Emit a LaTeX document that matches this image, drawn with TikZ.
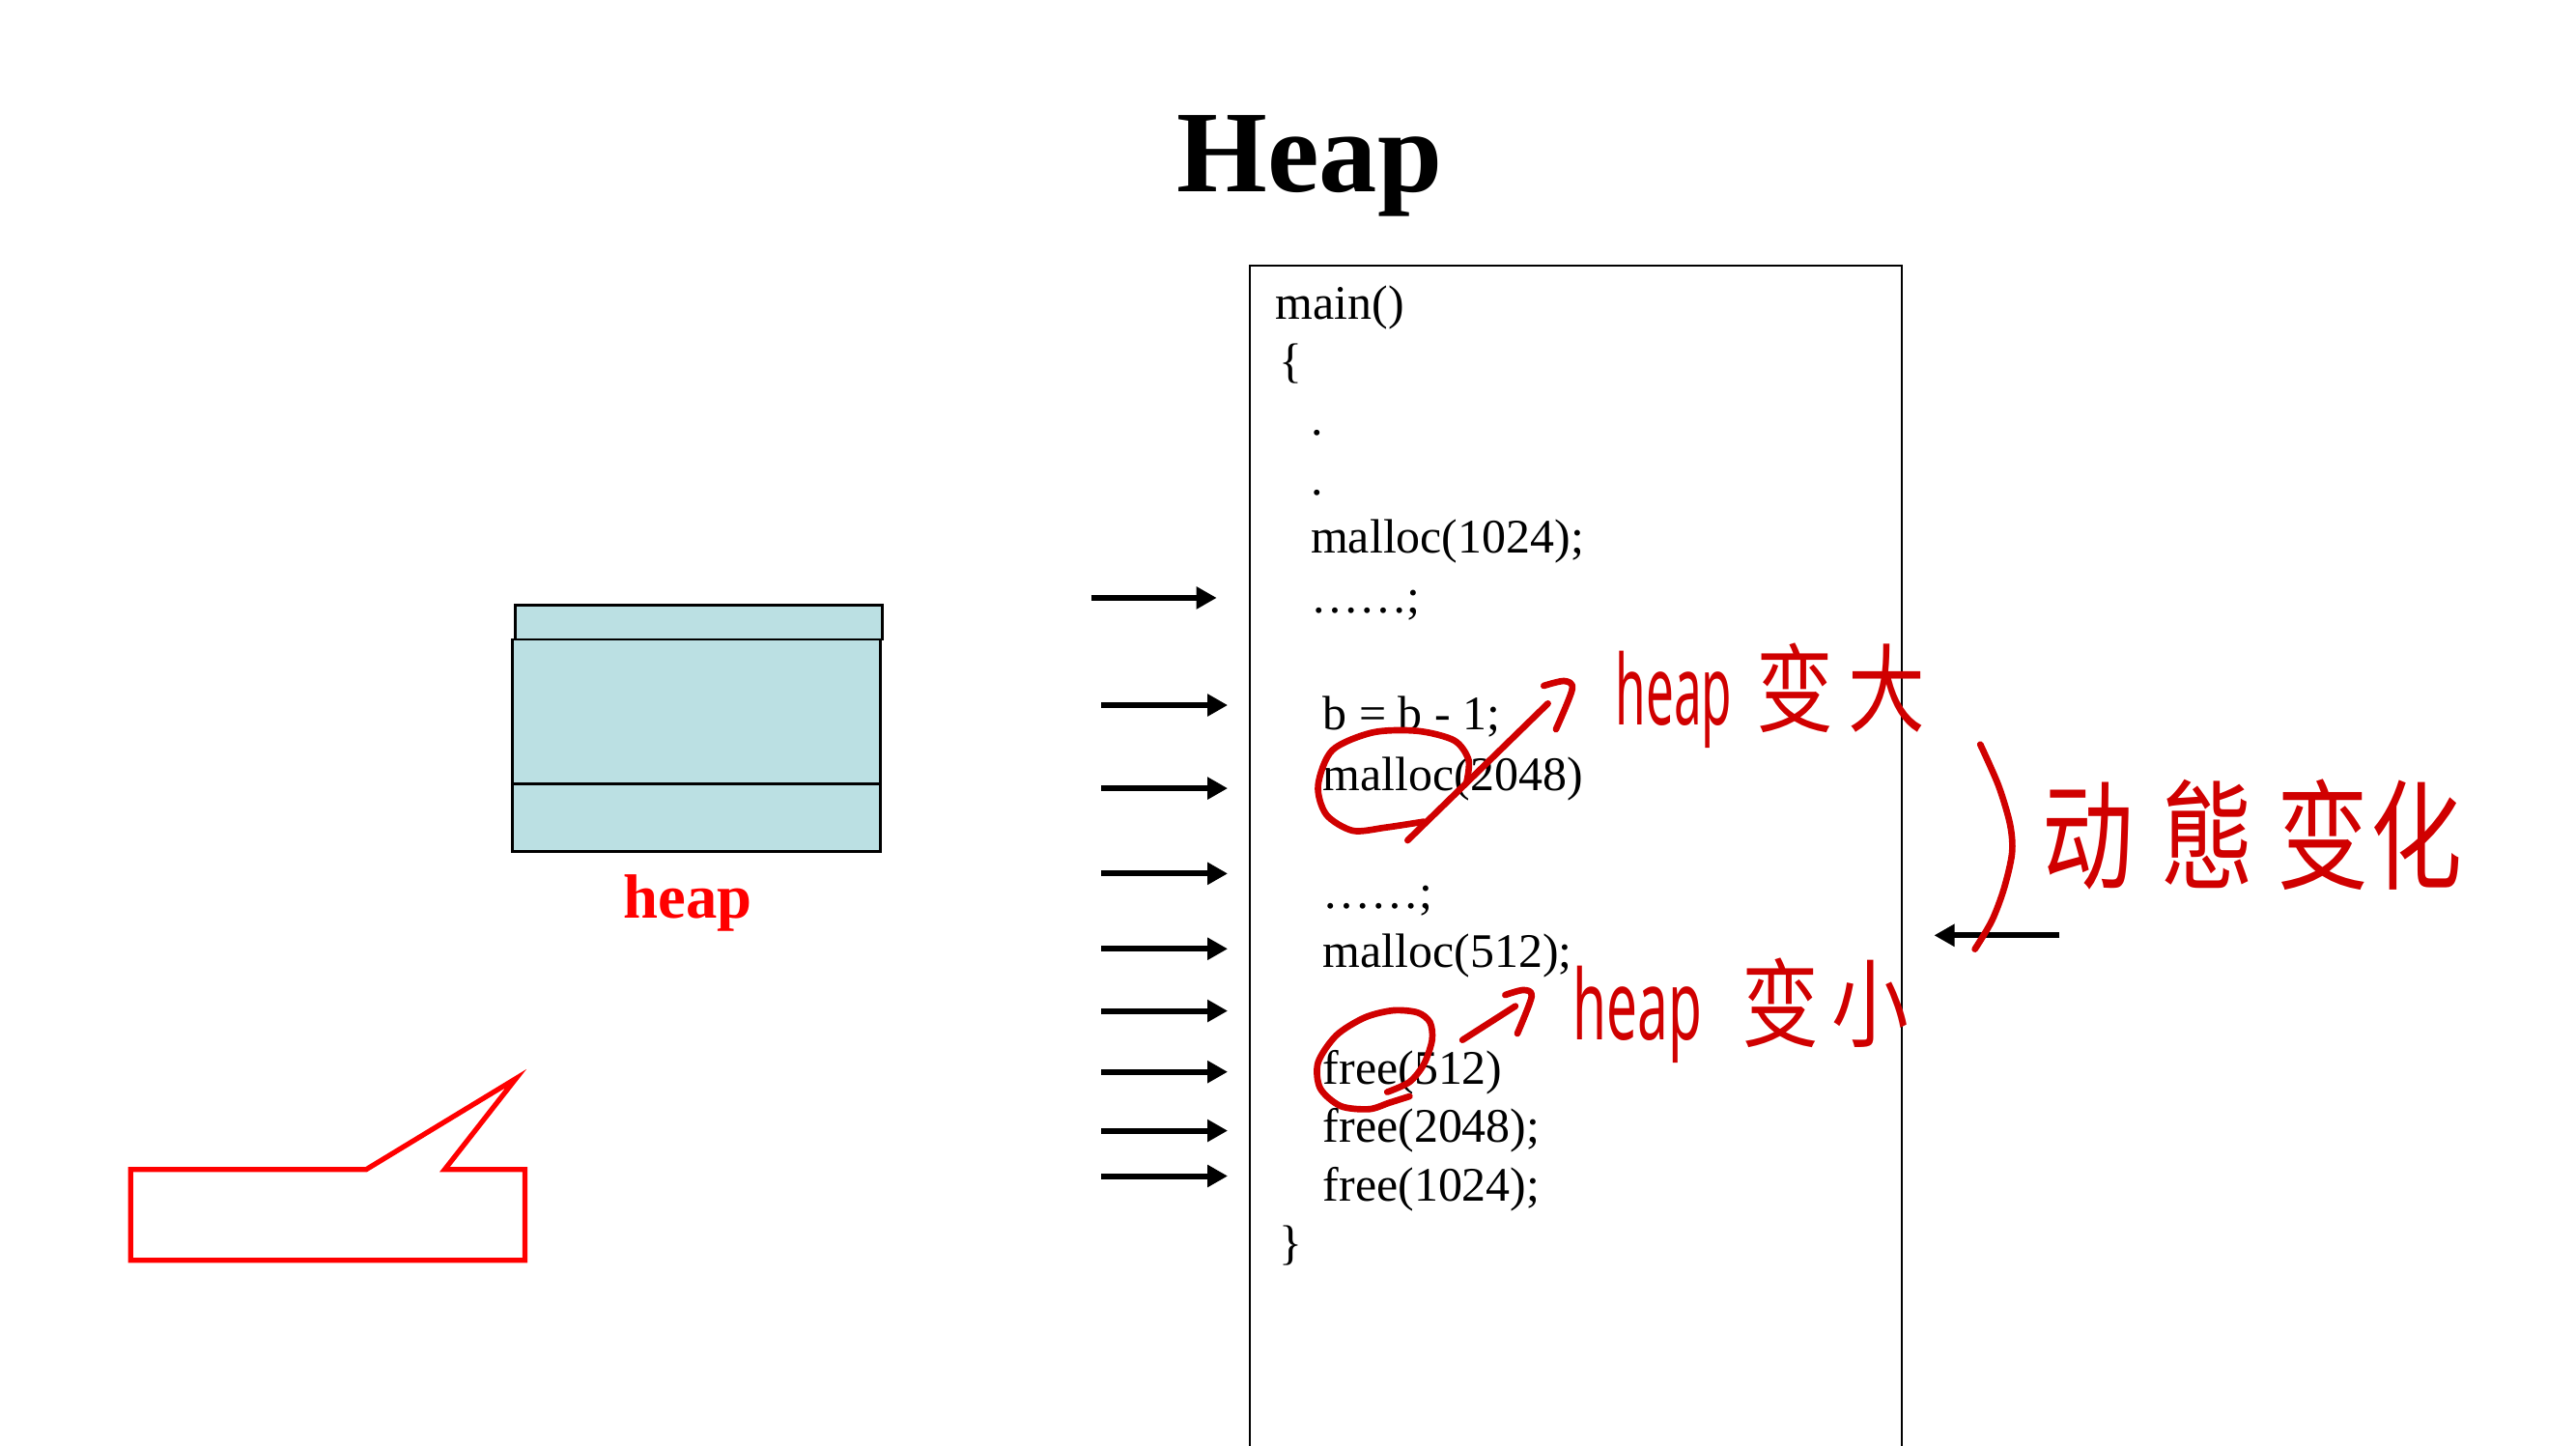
\documentclass[tikz,border=0pt]{standalone}
\usepackage{fontspec}
\usepackage{graphicx}
\setmainfont{Liberation Serif}
\newfontfamily\cjk{Noto Sans CJK SC}
\newfontfamily\hwfont{Noto Sans}
\usetikzlibrary{arrows.meta}
\definecolor{heapfill}{RGB}{187,224,227}
\definecolor{ink}{RGB}{208,0,0}
% hand-written style pieces
\newcommand\hwheap[1]{\scalebox{#1}[1.1]{\hwfont\fontsize{26pt}{26pt}\selectfont heap}}
\newcommand\hwcjk[3]{\scalebox{1}[#2]{\cjk\fontsize{#1}{#1}\selectfont #3}}
\tikzset{
  codeline/.style={anchor=base west, inner sep=0pt, font=\fontsize{14.2pt}{17pt}\selectfont},
  pointer/.style={line width=1.7pt, -{Triangle[length=6pt,width=6.3pt]}},
  pen/.style={draw=ink, line width=1.9pt, line cap=round, line join=round},
  hand/.style={anchor=base west, inner sep=0pt, text=ink},
}
\begin{document}
\begin{tikzpicture}[x=0.017009cm,y=-0.017009cm]
\useasboundingbox (0,0) rectangle (1568,879.54);

% title
\node[anchor=base, inner sep=0pt, font=\bfseries\fontsize{34.3pt}{40pt}\selectfont] (title) at (797.2,116.6) {Heap};

% program listing frame
\node[draw, line width=0.6pt, anchor=north west, minimum width=6.7526cm, minimum height=12.6cm, inner sep=0pt] (prog) at (760,161) {};

% heap block
\node[draw, line width=0.8pt, fill=heapfill, anchor=north west, minimum width=3.805cm, minimum height=0.3538cm, inner sep=0pt] (heapcap) at (312.8,367.6) {};
\node[draw, line width=0.8pt, fill=heapfill, anchor=north west, minimum width=3.805cm, minimum height=2.194cm, inner sep=0pt] (heapbox) at (311.2,388.4) {};
\coordinate (split) at (0,476.9);
\draw[line width=0.8pt] (heapbox.west |- split) -- (heapbox.east |- split);
\node[anchor=base, inner sep=0pt, text=red, font=\bfseries\fontsize{18.4pt}{22pt}\selectfont] (heaplbl) at (418.8,559) {heap};

% empty callout
\draw[red, line width=1.5pt] (79.5,711.8) -- (222.9,711.8) -- (314,656.5) -- (270.7,711.8) -- (319.5,711.8) -- (319.5,767.1) -- (79.5,767.1) -- cycle;

% code
\node[codeline] (l1) at (776,194.2) {main()};
\node[codeline] (l2) at (778.5,229.6) {\{};
\node[codeline] (l3) at (797.6,265) {.};
\node[codeline] (l4) at (797.6,301.5) {.};
\node[codeline] (l5) at (797.5,336.6) {malloc(1024);};
\node[codeline] (l6) at (797.5,373.2) {……;};
\node[codeline] (l7) at (805,443.9) {b = b - 1;};
\node[codeline] (l8) at (805,481) {malloc(2048)};
\node[codeline] (l9) at (805,553.1) {……;};
\node[codeline] (l10) at (805,588.8) {malloc(512);};
\node[codeline] (l11) at (805,660) {free(512)};
\node[codeline] (l12) at (805,695.1) {free(2048);};
\node[codeline] (l13) at (805,731.1) {free(1024);};
\node[codeline] (l14) at (778,766.5) {\}};

% execution pointers
\coordinate (p1) at (664.3,363.9); \coordinate (q1) at (740.6,363.9);
\foreach \i/\y in {2/429.2,3/479.8,4/531.7,5/577.5,6/615.3,7/652.4,8/688.2,9/715.8}{
  \coordinate (p\i) at (670.3,\y); \coordinate (q\i) at (747.3,\y);
}
\foreach \i in {1,...,9}{ \draw[pointer] (p\i) -- (q\i); }
\coordinate (rp) at (1253.6,569.3); \coordinate (rq) at (1177.3,569.3);
\draw[pointer] (rp) -- (rq);

% hand-written notes
\node[hand] (grow) at (983,441) {\hwheap{0.56}\hspace{7.1pt}\hwcjk{22.7pt}{1.25}{变\hspace{4.5pt}大}};
\node[hand] (shrink) at (957,633) {\hwheap{0.62}\hspace{11.7pt}\hwcjk{22.7pt}{1.25}{变\hspace{3.9pt}小}};
\node[hand] (dyn) at (1242.6,536) {\hwcjk{27pt}{1.3}{动\hspace{8.3pt}態\hspace{6.9pt}变\hspace{0.6pt}化}};

% circle on malloc and arrow
\draw[pen] plot[smooth] coordinates {(866.7,500.1) (843.2,503.7) (823.4,505.6) (807.3,495.8) (802.3,478.2) (811,456.6) (835.7,445.8) (862.9,444.9) (885.2,450.7) (893.9,462.5) (892.7,476.2)};
\draw[pen] (856.8,511.5) -- (942.2,428.2);
\draw[pen] plot[smooth] coordinates {(939.7,417.4) (952.1,414.5) (957,419.4) (947.1,443.9)};

% circle on free and arrow
\draw[pen] plot[smooth] coordinates {(844.4,664.7) (858,658.5) (866.7,647.7) (871.7,633) (870.4,622.2) (862.9,616.3) (848.1,615) (830.8,619.3) (813.5,630.1) (802.3,646.7) (803.6,662.4) (816,673.2) (833.3,675.1) (845.7,671.2) (858,667.3)};
\draw[pen] (890.2,633) -- (922.4,612.4);
\draw[pen] plot[smooth] coordinates {(916.2,605.6) (927.3,602.6) (932.3,606.5) (923.6,629.1)};

% bracket grouping the two notes
\draw[pen] plot[smooth] coordinates {(1205.4,453.1) (1216.5,478.2) (1223.5,501.7) (1224.7,519.3) (1219.8,540.9) (1212.4,560.5) (1202.1,577.7)};
\end{tikzpicture}
\end{document}
